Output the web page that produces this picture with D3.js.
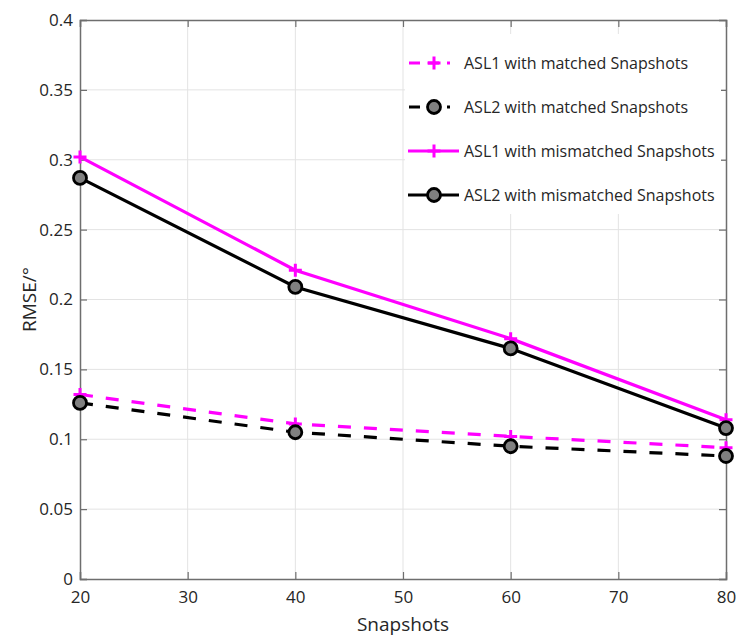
<!DOCTYPE html>
<html>
<head>
<meta charset="utf-8">
<script src="https://cdn.jsdelivr.net/npm/d3@7"></script>
<style>
  body { margin: 0; background: #fff; }
  svg text { font-family: "Open Sans", "Noto Sans", sans-serif; fill: #262626; }
</style>
</head>
<body>
<div id="chart"></div>
<script>
// snapshot counts on the x axis
const snapshots = [20, 40, 60, 80];

// RMSE values
const asl1Matched = [0.132, 0.111, 0.102, 0.094];
const asl2Matched = [0.126, 0.105, 0.095, 0.088];
const asl1Mismatched = [0.302, 0.221, 0.172, 0.114];
const asl2Mismatched = [0.287, 0.209, 0.165, 0.108];

const xTicks = [20, 30, 40, 50, 60, 70, 80];
const yTicks = [0, 0.05, 0.1, 0.15, 0.2, 0.25, 0.3, 0.35, 0.4];

const seriesList = [
  { name: "ASL1 with matched Snapshots", values: asl1Matched, color: "#ff00ff", dashed: true, marker: "plus" },
  { name: "ASL2 with matched Snapshots", values: asl2Matched, color: "#000000", dashed: true, marker: "circle" },
  { name: "ASL1 with mismatched Snapshots", values: asl1Mismatched, color: "#ff00ff", dashed: false, marker: "plus" },
  { name: "ASL2 with mismatched Snapshots", values: asl2Mismatched, color: "#000000", dashed: false, marker: "circle" }
];

const width = 737, height = 640;
const margin = { top: 20, right: 11, bottom: 61, left: 80 };

const svg = d3.select("#chart").append("svg")
  .attr("width", width)
  .attr("height", height);

const x = d3.scaleLinear().domain([20, 80]).range([margin.left, width - margin.right]);
const y = d3.scaleLinear().domain([0, 0.4]).range([height - margin.bottom, margin.top]);

// grid
svg.append("g").selectAll("line").data(xTicks.slice(1, -1)).join("line")
  .attr("x1", d => x(d)).attr("x2", d => x(d))
  .attr("y1", y(0)).attr("y2", y(0.4))
  .attr("stroke", "#e3e3e3").attr("stroke-width", 1);
svg.append("g").selectAll("line").data(yTicks.slice(1, -1)).join("line")
  .attr("x1", x(20)).attr("x2", x(80))
  .attr("y1", d => y(d)).attr("y2", d => y(d))
  .attr("stroke", "#e3e3e3").attr("stroke-width", 1);

// axes (box, inward ticks)
const fmt = d => d3.format("")(+d.toFixed(2));
function styleAxis(g, showText) {
  g.select(".domain").attr("stroke", "#6e6e6e").attr("stroke-width", 1.5);
  g.selectAll(".tick line").attr("stroke", "#6e6e6e").attr("stroke-width", 1.2);
  g.selectAll(".tick text").style("font-size", "17px").style("display", showText ? null : "none");
}
svg.append("g").attr("transform", `translate(0,${y(0)})`)
  .call(d3.axisBottom(x).tickValues(xTicks).tickSize(-7).tickPadding(12).tickFormat(d3.format("d")))
  .call(g => styleAxis(g, true));
svg.append("g").attr("transform", `translate(${x(20)},0)`)
  .call(d3.axisLeft(y).tickValues(yTicks).tickSize(-7).tickPadding(7).tickFormat(fmt))
  .call(g => styleAxis(g, true));
svg.append("g").attr("transform", `translate(0,${y(0.4)})`)
  .call(d3.axisTop(x).tickValues(xTicks).tickSize(-7).tickFormat(""))
  .call(g => styleAxis(g, false));
svg.append("g").attr("transform", `translate(${x(80)},0)`)
  .call(d3.axisRight(y).tickValues(yTicks).tickSize(-7).tickFormat(""))
  .call(g => styleAxis(g, false));

// axis titles
svg.append("text")
  .attr("x", (x(20) + x(80)) / 2).attr("y", 631)
  .attr("text-anchor", "middle").style("font-size", "19px")
  .text("Snapshots");
svg.append("text")
  .attr("transform", `translate(36,${(y(0) + y(0.4)) / 2}) rotate(-90)`)
  .attr("text-anchor", "middle").style("font-size", "19px")
  .text("RMSE/°");

// series
const line = d3.line().x((d, i) => x(snapshots[i])).y(d => y(d));

function drawMarker(g, kind, color, cx, cy) {
  if (kind === "plus") {
    g.append("path")
      .attr("d", `M${cx - 6.5},${cy}H${cx + 6.5}M${cx},${cy - 6.5}V${cy + 6.5}`)
      .attr("stroke", color).attr("stroke-width", 3);
  } else {
    g.append("circle").attr("cx", cx).attr("cy", cy).attr("r", 6.5)
      .attr("fill", "#808080").attr("stroke", "#000").attr("stroke-width", 2.8);
  }
}

seriesList.forEach(s => {
  const g = svg.append("g");
  g.append("path").datum(s.values)
    .attr("d", line)
    .attr("fill", "none")
    .attr("stroke", s.color)
    .attr("stroke-width", 3.2)
    .attr("stroke-dasharray", s.dashed ? "13,13" : null);
  s.values.forEach((v, i) => drawMarker(g, s.marker, s.color, x(snapshots[i]), y(v)));
});

// legend
const legend = svg.append("g");
legend.append("rect")
  .attr("x", 405).attr("y", 34).attr("width", 316).attr("height", 180)
  .attr("fill", "#fff");
seriesList.forEach((s, i) => {
  const ly = 63 + i * 44;
  const row = legend.append("g");
  row.append("line")
    .attr("x1", s.dashed ? 409 : 408).attr("x2", s.dashed ? 450 : 459).attr("y1", ly).attr("y2", ly)
    .attr("stroke", s.color).attr("stroke-width", 3.2)
    .attr("stroke-dasharray", s.dashed ? "11,8" : null);
  drawMarker(row, s.marker, s.color, 434, ly);
  row.append("text")
    .attr("x", 464).attr("y", ly + 6)
    .style("font-size", "16px")
    .text(s.name);
});
</script>
</body>
</html>
